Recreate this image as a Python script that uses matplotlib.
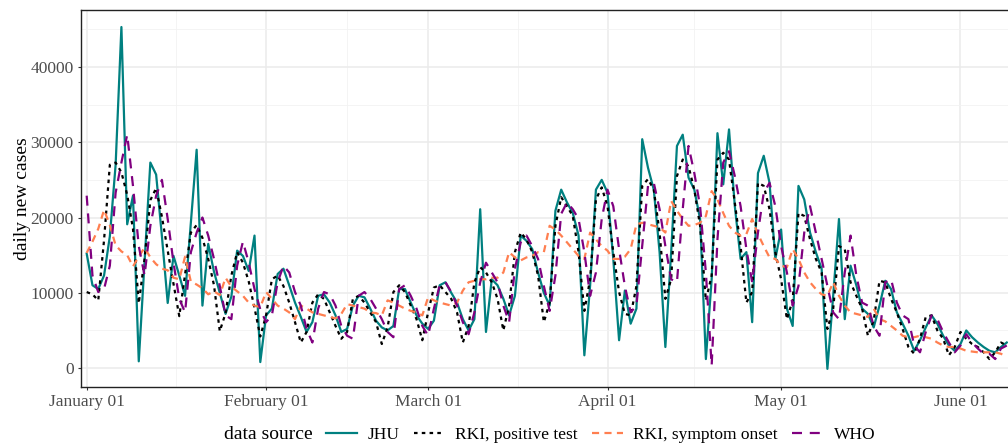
import numpy as np
import pandas as pd
import matplotlib
matplotlib.use('Agg')
import matplotlib.pyplot as plt
import matplotlib.dates as mdates
from matplotlib.ticker import FixedLocator
from matplotlib.lines import Line2D

plt.rcParams['font.family'] = ['Liberation Serif', 'DejaVu Serif']

# daily new cases, starting 2021-01-01
jhu = [15200, 11000, 10500, 12300, 17500, 27000, 45300, 19100, 22900, 900,
       14000, 27300, 25700, 17500, 8650, 14900, 12300, 9600, 19300, 29000,
       8300, 16500, 12800, 10000, 7200, 9500, 15600, 14900, 12900, 17600,
       800, 7000, 7900, 12500, 13200, 11000, 8700, 6800, 4800, 6100,
       9600, 9800, 8700, 7000, 4800, 5200, 8300, 9600, 9400, 7900,
       6300, 5400, 5000, 5600, 10500, 10500, 8700, 7000, 5900, 5200,
       6300, 11000, 11400, 10000, 8700, 6500, 5000, 6500, 21100, 4800,
       11800, 11000, 9200, 7000, 9600, 17600, 16900, 15800, 12700, 10000,
       8300, 20900, 23700, 22000, 20600, 17600, 1700, 11000, 23700, 25000,
       23300, 14500, 3700, 10300, 5900, 7900, 30400, 26600, 23700, 15400,
       2800, 15400, 29500, 31000, 25300, 23700, 19800, 1200, 11800, 31200,
       24400, 31700, 21500, 14500, 15400, 6100, 25900, 28200, 24600, 14500,
       18400, 7900, 5600, 24200, 22400, 18000, 15400, 13200, -100, 9600,
       19800, 6500, 13600, 11000, 7900, 7200, 5400, 8300, 11600, 10500,
       7400, 5900, 4300, 2300, 3700, 5400, 7000, 5900, 4300, 3000,
       2300, 3200, 5000, 4100, 3400, 2800, 2300, 2100, 2800, 3400]

rki_test = [10100, 9800, 9000, 17000, 27000, 27300, 26000, 23000, 18500, 8600,
            14500, 22300, 23900, 20100, 15600, 11200, 6900, 12400, 18000, 19000,
            17300, 14500, 11000, 4900, 7300, 12300, 15400, 14000, 11500, 8000,
            4200, 7000, 11800, 12300, 10900, 8700, 6100, 3400, 4800, 8700,
            9800, 9200, 7400, 5600, 3900, 4800, 9200, 9600, 8700, 7400,
            6100, 3200, 5400, 10100, 11000, 10100, 8300, 6500, 3700, 7400,
            10700, 11000, 10100, 9200, 7400, 3400, 5600, 11400, 13400, 12700,
            11400, 9200, 5000, 8300, 15400, 18000, 17100, 15400, 12300, 6100,
            8700, 18900, 22700, 21500, 20200, 15400, 7600, 11800, 22400, 24000,
            21500, 15400, 10100, 7200, 7000, 10900, 24200, 25100, 23700, 18000,
            9200, 11800, 25500, 27700, 26800, 23700, 18900, 9000, 12300, 27700,
            28600, 27700, 22000, 16200, 8700, 10100, 24600, 24200, 21100, 15400,
            11800, 6500, 9000, 20600, 20200, 17100, 14500, 12700, 5200, 7900,
            16200, 15800, 11400, 9600, 7900, 4300, 6300, 11600, 11400, 9200,
            7400, 5200, 2800, 1900, 3900, 6800, 7000, 5000, 3900, 1700,
            2800, 4800, 3900, 3200, 2800, 2100, 1200, 2100, 3400, 3000]

rki_onset = [15300, 16800, 18500, 21000, 19000, 16300, 15500, 15000, 13500, 14800,
             16000, 14700, 13800, 13200, 13000, 12000, 11800, 14800, 11500, 11100,
             10600, 9800, 10200, 9700, 12000, 10800, 10200, 9600, 8700, 8300,
             8100, 10100, 9200, 8300, 7900, 7400, 6500, 8300, 7900, 7400,
             7200, 7000, 6800, 6600, 7200, 8500, 8300, 8100, 7900, 7400,
             7300, 7000, 9000, 8700, 8300, 7900, 7600, 7400, 7000, 9400,
             9000, 8700, 8500, 8300, 8700, 10300, 11400, 11600, 11800, 11800,
             12000, 12000, 12700, 15400, 14700, 14300, 14700, 14900, 15400, 15400,
             18900, 18400, 17600, 16700, 15800, 14900, 14500, 18000, 17100, 16200,
             15600, 14500, 14500, 14800, 15800, 19100, 19300, 19100, 18900, 18700,
             18000, 22200, 20900, 19800, 18900, 19000, 19300, 20200, 23500, 22400,
             20600, 18900, 18000, 17600, 17800, 19800, 17800, 16200, 14700, 14500,
             13600, 13400, 15800, 14500, 12700, 11400, 10500, 9800, 9600, 11400,
             9600, 8300, 7400, 7200, 7000, 6800, 7900, 6500, 6200, 5600,
             5000, 4300, 4100, 4100, 4300, 4100, 3900, 3400, 3000, 2800,
             2800, 2600, 2300, 2200, 2100, 2100, 2100, 2100, 1900, 1500]

who = [22900, 12300, 10100, 10500, 13600, 23300, 27300, 31000, 24200, 16200,
       12300, 18900, 22900, 25000, 19800, 14000, 9200, 7400, 15400, 18000,
       20000, 17600, 14500, 10900, 7000, 6500, 13600, 16800, 14000, 10500,
       7800, 6100, 7000, 11400, 13600, 12700, 10100, 8300, 5200, 3400,
       7900, 10100, 9800, 8300, 5600, 4300, 3900, 9600, 10100, 9200,
       7900, 6500, 4800, 4100, 10500, 11000, 9600, 7900, 5600, 4300,
       7900, 11000, 11400, 10100, 8300, 6100, 4500, 7400, 11400, 14000,
       12700, 11400, 8300, 6100, 13200, 16700, 17600, 16200, 14500, 10900,
       7600, 12300, 20500, 22000, 21100, 19800, 15400, 9600, 12700, 19800,
       23700, 21500, 15800, 10900, 7400, 8300, 16200, 24200, 24600, 21100,
       16200, 11800, 11400, 21100, 29500, 25900, 21500, 12700, 350, 17100,
       27300, 28800, 25500, 21500, 15800, 11400, 18000, 23300, 24600, 21500,
       16200, 12700, 8300, 10900, 18000, 21500, 18000, 14500, 10900, 7400,
       6500, 12700, 17600, 12300, 8700, 8300, 5600, 4300, 11400, 11800,
       8700, 7000, 6500, 3000, 2100, 4800, 7000, 6500, 4800, 3400,
       2100, 3000, 4500, 3400, 2600, 1900, 1900, 1200, 2600, 3000]

dates = pd.date_range('2021-01-01', periods=len(jhu), freq='D')

fig = plt.figure(figsize=(10.08, 4.44), dpi=100)
ax = fig.add_axes([80.7 / 1008, 1 - 386.7 / 444, (1012 - 80.7) / 1008, (386.7 - 9.7) / 444])

lw = 1.6
ax.plot(dates, jhu, color='#008080', lw=lw, solid_joinstyle='round')
ax.plot(dates, rki_test, color='black', lw=lw, dashes=(1.6, 1.9))
ax.plot(dates, rki_onset, color='#FF7F50', lw=lw, dashes=(3.2, 2.4))
ax.plot(dates, who, color='#800080', lw=lw, dashes=(4.5, 3.5))

start = pd.Timestamp('2021-01-01')
ax.set_xlim(start - pd.Timedelta(days=1.035), start + pd.Timedelta(days=159.9))
ax.set_ylim(-2470, 47600)

# minor grid halfway between month starts, as ggplot does
months = pd.date_range('2020-12-01', '2021-07-01', freq='MS')
mids = [months[i] + (months[i + 1] - months[i]) / 2 for i in range(len(months) - 1)]
ax.xaxis.set_major_locator(mdates.MonthLocator())
ax.xaxis.set_major_formatter(mdates.DateFormatter('%B %d'))
ax.xaxis.set_minor_locator(FixedLocator(mdates.date2num(mids)))
ax.set_yticks([0, 10000, 20000, 30000, 40000])
ax.set_yticks([5000, 15000, 25000, 35000, 45000], minor=True)

ax.grid(which='major', color='#EBEBEB', lw=1.1)
ax.grid(which='minor', color='#F2F2F2', lw=0.6)
ax.set_axisbelow(True)
ax.tick_params(which='major', length=2, color='#333333', labelsize=12.5, labelcolor='#4D4D4D', pad=3)
ax.tick_params(which='minor', length=0)
for s in ['left', 'bottom', 'top']:
    ax.spines[s].set_color('#222222')
    ax.spines[s].set_linewidth(1.0)
ax.spines['right'].set_visible(False)
ax.set_ylabel('daily new cases', fontsize=14, labelpad=0)

handles = [Line2D([], [], color='#008080', lw=lw),
           Line2D([], [], color='black', lw=lw, dashes=(1.6, 1.9)),
           Line2D([], [], color='#FF7F50', lw=lw, dashes=(3.2, 2.4)),
           Line2D([], [], color='#800080', lw=lw, dashes=(4.5, 3.5))]
labels = ['JHU', 'RKI, positive test', 'RKI, symptom onset', 'WHO']
fig.text(224 / 1008, 1 - 434 / 444, 'data source', fontsize=14, va='center', ha='left')
fig.legend(handles, labels, loc='center left', bbox_to_anchor=(326 / 1008, 1 - 435 / 444),
           ncol=4, frameon=False, fontsize=12.5, handlelength=1.8, handletextpad=0.6,
           columnspacing=0.8, borderpad=0, borderaxespad=0)

fig.savefig('out.png', dpi=100)
